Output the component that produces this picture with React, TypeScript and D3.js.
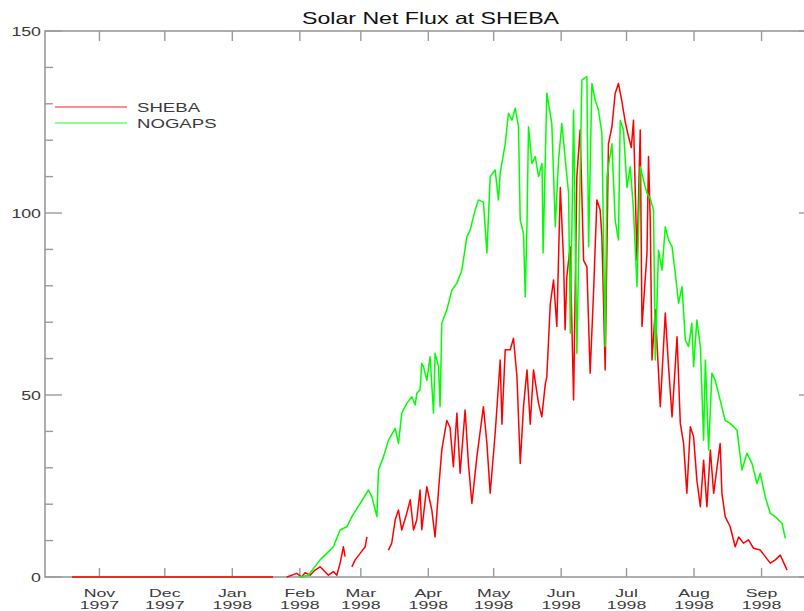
import React from "react";
import * as d3 from "d3";

// x values are day numbers counted from 1 Jan 1997 (day 1)
const X_DOMAIN: [number, number] = [280, 634];
const Y_DOMAIN: [number, number] = [0, 150];

const MONTH_TICKS = [305, 335, 366, 397, 425, 456, 486, 517, 547, 578, 609];
const MONTH_LABELS = ["Nov", "Dec", "Jan", "Feb", "Mar", "Apr", "May", "Jun", "Jul", "Aug", "Sep"];
const YEAR_LABELS = ["1997", "1997", "1998", "1998", "1998", "1998", "1998", "1998", "1998", "1998", "1998"];
const Y_MAJOR = [0, 50, 100, 150];
const Y_MINOR = [10, 20, 30, 40, 60, 70, 80, 90, 110, 120, 130, 140];

const TITLE = "Solar Net Flux at SHEBA";
const SERIES_NAMES = ["SHEBA", "NOGAPS"];

type Pt = [number, number | null];

const SHEBA: Pt[] = [
  [292.4, 0], [310, 0], [330, 0], [350, 0], [370, 0], [384.7, 0], [386, null],
  [391.0, 0], [395.6, 1], [397.9, 0], [399.4, 1.2], [401.7, 0.5], [404.0, 1.9], [406.3, 2.8], [407.8, 1.9],
  [410.1, 0.5], [412.4, 1.5], [414.0, 0.5], [415.5, 3.8], [417.0, 8.3], [417.8, 5.6], [419, null],
  [420.9, 2.8], [422.4, 4.7], [424.7, 6.5], [427.0, 8.3], [427.8, 11], [430, null],
  [437.7, 7.4], [439.2, 9.3], [440.8, 15.7], [442.3, 18.4], [443.8, 12.9], [446.1, 17.5], [447.7, 21.2],
  [449.2, 12.9], [450.7, 15.7], [452.2, 23.9], [453.0, 13], [455.3, 24.8], [457.6, 18.4], [459.1, 11],
  [460.7, 23.9], [462.2, 35], [464.5, 43], [466.0, 41], [467.5, 30.3], [469.1, 45], [470.6, 28.5],
  [472.9, 45.9], [474.4, 31.2], [476.0, 20.2], [478.3, 33], [481.3, 46.8], [482.9, 36.7], [484.4, 23],
  [486.7, 39.5], [489.0, 59.6], [489.8, 42], [491.3, 62.4], [493.6, 62.4], [495.1, 65.6], [496.7, 55],
  [498.2, 31.2], [499.7, 46.8], [501.3, 56.9], [502.8, 42], [504.3, 56.9], [506.6, 47.7], [508.1, 44],
  [509.7, 53], [510.4, 55], [512.0, 75], [513.5, 81.6], [515.0, 68.8], [516.6, 107], [518.1, 87],
  [518.8, 67.9], [519.6, 82.5], [521.1, 90.7], [522.7, 48.6], [524.2, 110], [525.7, 122.8], [527.3, 87],
  [528.8, 85.2], [530.3, 56], [531.9, 78.8], [533.4, 103.6], [534.9, 100.8], [535.7, 93.5], [537.2, 56.9],
  [538.7, 119], [540.3, 123.7], [541.8, 132.9], [543.3, 135.6], [544.9, 130.6], [546.4, 125], [547.9, 121],
  [549.2, 118], [550.2, 125.5], [551.8, 87], [553.3, 122.8], [554.1, 68.8], [556.4, 89], [557.1, 115.5],
  [557.9, 98], [558.7, 59.6], [560.2, 73.4], [562.5, 46.8], [564.8, 72.5], [566.3, 57.8], [567.9, 44],
  [570.2, 66], [571.7, 42.2], [573.2, 36.7], [574.7, 23], [576.3, 41.3], [577.8, 38.5], [579.3, 26.6],
  [580.9, 19.3], [582.4, 32.1], [583.9, 19.3], [585.5, 34.9], [587.0, 23], [590.0, 36.7], [590.8, 23],
  [592.3, 16.6], [594.6, 13.8], [596.9, 8.3], [598.5, 11], [600.7, 9.3], [603.0, 10.2], [605.3, 7.9],
  [608.4, 7.4], [610.7, 5.6], [613.0, 3.8], [615.3, 4.7], [617.6, 6], [620.7, 1.9],
];

const NOGAPS: Pt[] = [
  [397.0, 0], [400.9, 0.5], [406.3, 4.7], [409.4, 6.5], [412.4, 8.3], [415.5, 12.9], [418.6, 13.8],
  [420.9, 16.6], [424.7, 20.2], [428.5, 23.9], [430.1, 22], [432.4, 16.6], [433.1, 29.4], [435.4, 33],
  [437.7, 37.6], [440.8, 40.8], [442.3, 36.7], [443.8, 45], [446.1, 47.7], [448.4, 49.5], [450.0, 47.3],
  [450.7, 50.5], [452.2, 51.4], [453.0, 58.7], [453.8, 57.8], [455.3, 54], [456.8, 60.5], [458.4, 45],
  [459.1, 61.5], [460.7, 57.8], [461.4, 46.8], [462.2, 69.7], [464.5, 73.4], [466.8, 78.8], [469.1, 80.7],
  [471.4, 84.3], [473.7, 93.5], [475.2, 95.3], [477.5, 100.8], [479.0, 103.6], [481.3, 103], [482.9, 89],
  [484.4, 110], [486.7, 111.8], [488.2, 103.6], [489.0, 111], [491.3, 119], [492.8, 127.4], [494.4, 125.5],
  [495.9, 128.8], [497.4, 123.7], [498.2, 98], [499.7, 94.4], [500.5, 77], [501.3, 97], [502.0, 123.7],
  [503.6, 113.6], [505.1, 115.5], [506.6, 110], [508.2, 113.6], [508.7, 89], [510.4, 132.9], [512.7, 124.6],
  [514.3, 96.2], [515.8, 114.6], [517.3, 124.6], [518.9, 114.6], [520.4, 105.4], [521.2, 67], [522.7, 128.3],
  [524.2, 61.4], [526.5, 136.5], [528.8, 137.5], [529.6, 90.7], [531.1, 135.6], [532.6, 131], [534.1, 128.3],
  [535.7, 121.9], [537.2, 63.3], [538.0, 110], [540.3, 119], [541.8, 98], [543.3, 92.6], [544.1, 125.5],
  [545.6, 122.8], [547.2, 107], [548.7, 112.7], [550.2, 100.8], [551.8, 79.8], [553.3, 112.7], [554.8, 109],
  [556.4, 105.4], [557.9, 104], [559.4, 100.8], [560.2, 59.6], [561.7, 89.8], [563.3, 84.3], [564.8, 96.2],
  [566.3, 92.6], [567.9, 90.7], [569.4, 83.4], [570.9, 75.2], [572.5, 79.8], [574.0, 65.1], [575.5, 63.3],
  [577.0, 69.7], [577.8, 57.8], [579.3, 70.6], [580.9, 63.3], [582.4, 37.6], [583.2, 59.6], [584.7, 34.9],
  [586.2, 56], [587.7, 54.1], [590.0, 48.6], [592.3, 43], [594.6, 42.2], [597.7, 40.4], [600.0, 29.4],
  [602.3, 34], [604.6, 31.2], [606.9, 25.7], [608.4, 28.5], [610.7, 22], [613.0, 17.5], [615.3, 16.6],
  [618.4, 14.7], [619.9, 10.6],
];

const W = 804;
const H = 611;
const LEFT = 45;
const RIGHT = 816;
const TOP = 31;
const BOTTOM = 577;
const FONT = "'Liberation Sans', Arial, Helvetica, sans-serif";
const SX = 1.42;
const AXIS = "#9a9a9a";
const LABEL = "#3a3a3a";

export default function App() {
  const x = d3.scaleLinear().domain(X_DOMAIN).range([LEFT, RIGHT]);
  const y = d3.scaleLinear().domain(Y_DOMAIN).range([BOTTOM, TOP]);
  const line = d3
    .line<Pt>()
    .defined((d) => d[1] !== null)
    .x((d) => x(d[0]))
    .y((d) => y(d[1] as number));

  const stretched = (
    tx: number,
    ty: number,
    txt: string,
    size: number,
    anchor: string,
    fill: string,
    key?: string,
    sx: number = SX,
    sy: number = 1
  ) => (
    <text
      key={key}
      transform={`translate(${tx},${ty}) scale(${sx},${sy})`}
      textAnchor={anchor as any}
      fontFamily={FONT}
      fontSize={size}
      fill={fill}
    >
      {txt}
    </text>
  );

  return (
    <svg
      width={W}
      height={H}
      style={{ position: "absolute", left: 0, top: 0, background: "#fff" }}
    >
      <rect x={0} y={0} width={W} height={H} fill="#fff" />
      {/* title */}
      {stretched((LEFT + RIGHT) / 2, 23.5, TITLE, 16.3, "middle", "#111")}

      {/* box */}
      <rect x={LEFT} y={TOP} width={RIGHT - LEFT} height={BOTTOM - TOP} fill="none" stroke={AXIS} strokeWidth={1.6} />

      {/* x ticks */}
      {MONTH_TICKS.map((t, i) => (
        <g key={"xt" + i} stroke={AXIS} strokeWidth={1.4}>
          <line x1={x(t)} x2={x(t)} y1={BOTTOM} y2={BOTTOM - 9} />
          <line x1={x(t)} x2={x(t)} y1={TOP} y2={TOP + 10} />
        </g>
      ))}
      {MONTH_TICKS.map((t, i) => stretched(x(t), 596.5, MONTH_LABELS[i], 12, "middle", LABEL, "ml" + i, 1.48, 0.88))}
      {MONTH_TICKS.map((t, i) => stretched(x(t), 609, YEAR_LABELS[i], 12, "middle", LABEL, "yl" + i, 1.48, 0.88))}

      {/* y ticks */}
      {Y_MAJOR.map((v, i) => (
        <g key={"ym" + i} stroke={AXIS} strokeWidth={1.4}>
          <line x1={LEFT} x2={LEFT + 17} y1={y(v)} y2={y(v)} />
          <line x1={RIGHT} x2={RIGHT - 17} y1={y(v)} y2={y(v)} />
        </g>
      ))}
      {Y_MINOR.map((v, i) => (
        <g key={"yn" + i} stroke={AXIS} strokeWidth={1.4}>
          <line x1={LEFT} x2={LEFT + 8} y1={y(v)} y2={y(v)} />
          <line x1={RIGHT} x2={RIGHT - 8} y1={y(v)} y2={y(v)} />
        </g>
      ))}
      {Y_MAJOR.map((v, i) => stretched(41, y(v) + 4.5, String(v), 12.5, "end", LABEL, "yt" + i))}

      {/* data */}
      <path d={line(SHEBA) || ""} fill="none" stroke="#ff0000" strokeWidth={1.5} strokeLinejoin="round" />
      <path d={line(NOGAPS) || ""} fill="none" stroke="#00ff00" strokeWidth={1.5} strokeLinejoin="round" />

      {/* legend */}
      <line x1={55} x2={127} y1={107} y2={107} stroke="#ff0000" strokeWidth={1.5} strokeOpacity={0.6} />
      <line x1={55} x2={127} y1={123} y2={123} stroke="#00ff00" strokeWidth={1.5} strokeOpacity={0.6} />
      {stretched(137, 111.5, SERIES_NAMES[0], 13.1, "start", LABEL)}
      {stretched(137, 127.5, SERIES_NAMES[1], 13.1, "start", LABEL)}
    </svg>
  );
}
